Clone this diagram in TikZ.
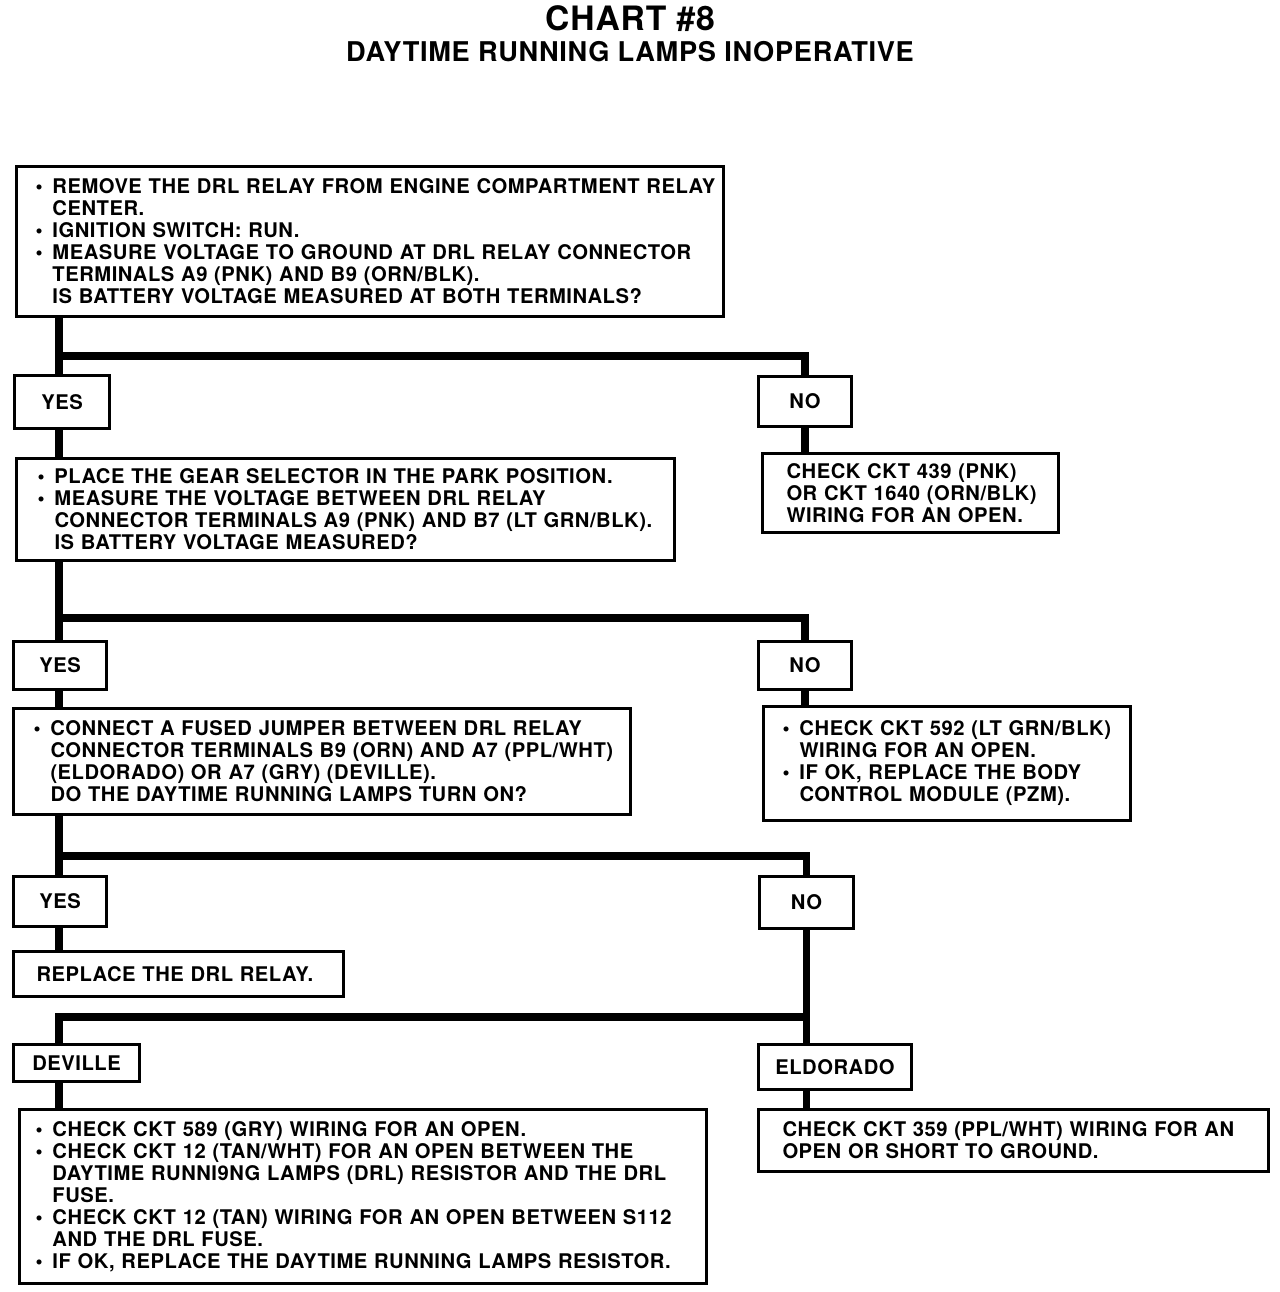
\documentclass[tikz,border=0pt]{standalone}
\usepackage{fontspec}
\setmainfont{TeX Gyre Heros}[LetterSpace=2.6]
\usetikzlibrary{positioning, calc}
\definecolor{cInk}{RGB}{0, 0, 0}
\definecolor{cPaper}{RGB}{255, 255, 255}
\newcommand{\bul}{\makebox[7pt][l]{\hspace*{-1.5pt}\textbullet}}
\newcommand{\ind}{\hspace*{7pt}}
\tikzset{
    % --- 方框 ---
    boxSize/.style 2 args={
        minimum width=#1*0.5pt,
        minimum height=#2*0.5pt
    },
    boxFrame/.style n args={3}{
        boxSize={#1}{#2},
        inner xsep=#3*0.5pt,
        text width=(#1-2*#3)*0.5pt
    },
    stepBox/.style={
        rectangle, draw=cInk, line width=1.5pt,
        anchor=north west, inner sep=0pt,
        align=left,
        font=\fontsize{10.1}{11}\selectfont\bfseries,
        execute at begin node={\rightskip=-60pt plus 1fil\relax}
    },
    answerBox/.style={
        rectangle, draw=cInk, line width=1.5pt,
        anchor=north west, inner sep=0pt,
        align=center,
        font=\fontsize{10.1}{11}\selectfont\bfseries
    },
    %
    % --- 连线 ---
    conn/.style={
        draw=cInk, line width=3.6pt, line join=miter
    },
    titleText/.style={
        anchor=base, text=cInk
    }
}

\begin{document}
\begin{tikzpicture}[x=0.5pt, y=-0.5pt]

	\path[fill=cPaper] (0,0) rectangle (1280,1292);
	\useasboundingbox (0,0) rectangle (1280,1292);

	% =========================================
	% 1. 标题
	% =========================================

	\node[titleText, font=\fontsize{16.8}{17}\selectfont\bfseries] (title) at (630,30) {CHART \#8};
	\node[titleText, font=\fontsize{13.6}{14}\selectfont\bfseries] (subtitle) at (630,61) {DAYTIME RUNNING LAMPS INOPERATIVE};

	% =========================================
	% 2. 检查步骤
	% =========================================

	% Step 1
	\node[stepBox, boxFrame={707}{150}{22}] (q1) at (15,165) {
		\bul REMOVE THE DRL RELAY FROM ENGINE COMPARTMENT RELAY\\
		\ind CENTER.\\
		\bul IGNITION SWITCH: RUN.\\
		\bul MEASURE VOLTAGE TO GROUND AT DRL RELAY CONNECTOR\\
		\ind TERMINALS A9 (PNK) AND B9 (ORN/BLK).\\
		\ind IS BATTERY VOLTAGE MEASURED AT BOTH TERMINALS?
	};
	\node[answerBox, boxSize={95}{53}] (yes1) at (13,374) {YES};
	\node[answerBox, boxSize={93}{50}] (no1) at (757,375) {NO};

	% Step 2
	\node[stepBox, boxFrame={658}{102}{24}] (q2) at (15,457) {
		\bul PLACE THE GEAR SELECTOR IN THE PARK POSITION.\\
		\bul MEASURE THE VOLTAGE BETWEEN DRL RELAY\\
		\ind CONNECTOR TERMINALS A9 (PNK) AND B7 (LT GRN/BLK).\\
		\ind IS BATTERY VOLTAGE MEASURED?
	};
	\node[stepBox, boxFrame={296}{79}{24}] (r1) at (761,452) {
		CHECK CKT 439 (PNK)\\
		OR CKT 1640 (ORN/BLK)\\
		WIRING FOR AN OPEN.
	};
	\node[answerBox, boxSize={93}{48}] (yes2) at (12,640) {YES};
	\node[answerBox, boxSize={93}{48}] (no2) at (757,640) {NO};

	% Step 3
	\node[stepBox, boxFrame={617}{106}{23}] (q3) at (12,707) {
		\bul CONNECT A FUSED JUMPER BETWEEN DRL RELAY\\
		\ind CONNECTOR TERMINALS B9 (ORN) AND A7 (PPL/WHT)\\
		\ind (ELDORADO) OR A7 (GRY) (DEVILLE).\\
		\ind DO THE DAYTIME RUNNING LAMPS TURN ON?
	};
	\node[stepBox, boxFrame={367}{114}{22}] (r2) at (762,705) {
		\bul CHECK CKT 592 (LT GRN/BLK)\\
		\ind WIRING FOR AN OPEN.\\
		\bul IF OK, REPLACE THE BODY\\
		\ind CONTROL MODULE (PZM).
	};
	\node[answerBox, boxSize={93}{50}] (yes3) at (12,875) {YES};
	\node[answerBox, boxSize={94}{52}] (no3) at (758,875) {NO};

	% Results
	\node[stepBox, boxFrame={330}{45}{23}] (r3) at (12,950) {REPLACE THE DRL RELAY.};
	\node[answerBox, boxSize={126}{37}] (deville) at (12,1043) {DEVILLE};
	\node[answerBox, boxSize={153}{45}] (eldorado) at (757,1043) {ELDORADO};
	\node[stepBox, boxFrame={687}{174}{19}] (r4) at (18,1108) {
		\bul CHECK CKT 589 (GRY) WIRING FOR AN OPEN.\\
		\bul CHECK CKT 12 (TAN/WHT) FOR AN OPEN BETWEEN THE\\
		\ind DAYTIME RUNNI9NG LAMPS (DRL) RESISTOR AND THE DRL\\
		\ind FUSE.\\
		\bul CHECK CKT 12 (TAN) WIRING FOR AN OPEN BETWEEN S112\\
		\ind AND THE DRL FUSE.\\
		\bul IF OK, REPLACE THE DAYTIME RUNNING LAMPS RESISTOR.
	};
	\node[stepBox, boxFrame={510}{62}{24}] (r5) at (757,1108) {
		CHECK CKT 359 (PPL/WHT) WIRING FOR AN\\
		OPEN OR SHORT TO GROUND.
	};

	% =========================================
	% 3. 连线
	% =========================================

	\coordinate (s1) at (59,356);
	\coordinate (s2) at (59,618);
	\coordinate (s3) at (59,856);
	\coordinate (s4) at (59,1017);

	% Step 1 -> YES / NO
	\draw[conn] (s1 |- q1.south) -- (s1 |- yes1.north);
	\draw[conn] (s1) -| (no1.north);
	\draw[conn] (s1 |- yes1.south) -- (s1 |- q2.north);
	\draw[conn] (no1.south) -- (no1.south |- r1.north);

	% Step 2 -> YES / NO
	\draw[conn] (s2 |- q2.south) -- (s2 |- yes2.north);
	\draw[conn] (s2) -| (no2.north);
	\draw[conn] (s2 |- yes2.south) -- (s2 |- q3.north);
	\draw[conn] (no2.south) -- (no2.south |- r2.north);

	% Step 3 -> YES / NO
	\draw[conn] (s3 |- q3.south) -- (s3 |- yes3.north);
	\draw[conn] (s3) -| (no3.north);
	\draw[conn] (s3 |- yes3.south) -- (s3 |- r3.north);

	% NO -> DEVILLE / ELDORADO
	\draw[conn] (no3.south) -- (no3.south |- eldorado.north);
	\draw[conn] (no3.south |- s4) -- (s4) -- (s4 |- deville.north);
	\draw[conn] (s4 |- deville.south) -- (s4 |- r4.north);
	\draw[conn] (no3.south |- eldorado.south) -- (no3.south |- r5.north);

\end{tikzpicture}
\end{document}
